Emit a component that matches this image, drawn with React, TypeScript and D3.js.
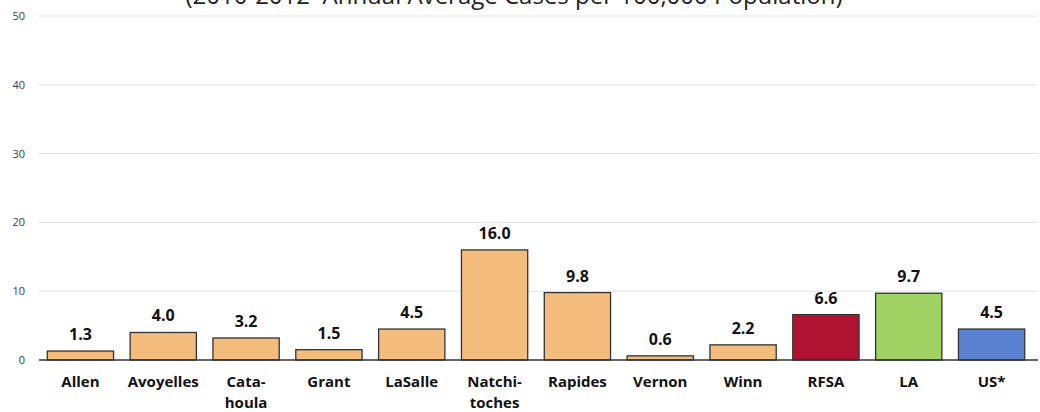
import { useEffect, useRef } from "react"
import * as d3 from "d3"

const categories = ["Allen", "Avoyelles", "Cata-\nhoula", "Grant", "LaSalle", "Natchi-\ntoches", "Rapides", "Vernon", "Winn", "RFSA", "LA", "US*"]
const values = [1.3, 4.0, 3.2, 1.5, 4.5, 16.0, 9.8, 0.6, 2.2, 6.6, 9.7, 4.5]
const barColors = ["#F4BC7D", "#F4BC7D", "#F4BC7D", "#F4BC7D", "#F4BC7D", "#F4BC7D", "#F4BC7D", "#F4BC7D", "#F4BC7D", "#B01232", "#A0D264", "#5A80D0"]
const yTicks = [0, 10, 20, 30, 40, 50]
const title = "(2010-2012  Annual Average Cases per 100,000 Population)"

const W = 1040
const H = 412
const font = "'Open Sans', 'Noto Sans', sans-serif"

export default function App() {
  const svgRef = useRef<SVGSVGElement>(null)

  useEffect(() => {
    if (!svgRef.current) return
    const svg = d3.select(svgRef.current)
    svg.selectAll("*").remove()

    const left = 39
    const right = 1038
    const top = 16
    const bottom = 360

    const x = d3.scaleBand<number>()
      .domain(d3.range(categories.length))
      .range([left, 1033])
      .paddingInner(0.2)
      .paddingOuter(0.1)
    const y = d3.scaleLinear().domain([0, 50]).range([bottom, top])

    // title (cut off at the top, as in the source)
    svg.append("text")
      .attr("x", 514)
      .attr("y", 4)
      .attr("text-anchor", "middle")
      .attr("font-family", font)
      .attr("font-size", 24)
      .attr("fill", "#222")
      .style("white-space", "pre")
      .text(title)

    // gridlines
    svg.append("g")
      .selectAll("line")
      .data(yTicks.filter((d) => d > 0))
      .enter()
      .append("line")
      .attr("x1", left)
      .attr("x2", right)
      .attr("y1", (d) => y(d))
      .attr("y2", (d) => y(d))
      .attr("stroke", "#e2e2e2")
      .attr("stroke-width", 1)

    // y tick labels
    svg.append("g")
      .selectAll("text")
      .data(yTicks)
      .enter()
      .append("text")
      .attr("x", 25)
      .attr("y", (d) => y(d) + 4)
      .attr("text-anchor", "end")
      .attr("font-family", font)
      .attr("font-size", 11)
      .attr("fill", "#404040")
      .text((d) => d)

    // bars
    svg.append("g")
      .selectAll("rect")
      .data(values)
      .enter()
      .append("rect")
      .attr("x", (d, i) => x(i)!)
      .attr("y", (d) => y(d))
      .attr("width", x.bandwidth())
      .attr("height", (d) => bottom - y(d))
      .attr("fill", (d, i) => barColors[i])
      .attr("stroke", "#333")
      .attr("stroke-width", 1.3)

    // baseline
    svg.append("line")
      .attr("x1", left)
      .attr("x2", right)
      .attr("y1", bottom)
      .attr("y2", bottom)
      .attr("stroke", "#333")
      .attr("stroke-width", 1.5)

    // value labels
    svg.append("g")
      .selectAll("text")
      .data(values)
      .enter()
      .append("text")
      .attr("x", (d, i) => x(i)! + x.bandwidth() / 2)
      .attr("y", (d) => y(d) - 11)
      .attr("text-anchor", "middle")
      .attr("font-family", font)
      .attr("font-size", 16)
      .attr("font-weight", "bold")
      .attr("fill", "#111")
      .text((d) => d.toFixed(1))

    // category labels
    const cats = svg.append("g")
      .selectAll("text")
      .data(categories)
      .enter()
      .append("text")
      .attr("x", (d, i) => x(i)! + x.bandwidth() / 2)
      .attr("y", 387)
      .attr("text-anchor", "middle")
      .attr("font-family", font)
      .attr("font-size", 15)
      .attr("font-weight", "bold")
      .attr("fill", "#111")

    cats.selectAll("tspan")
      .data((d) => d.split("\n"))
      .enter()
      .append("tspan")
      .attr("x", function () {
        return (this.parentNode as SVGTextElement).getAttribute("x")
      })
      .attr("dy", (d, i) => (i === 0 ? 0 : 20.5))
      .text((d) => d)
  }, [])

  return (
    <svg ref={svgRef} width={W} height={H} style={{ position: "absolute", left: 0, top: 0, background: "#fff" }} />
  )
}
